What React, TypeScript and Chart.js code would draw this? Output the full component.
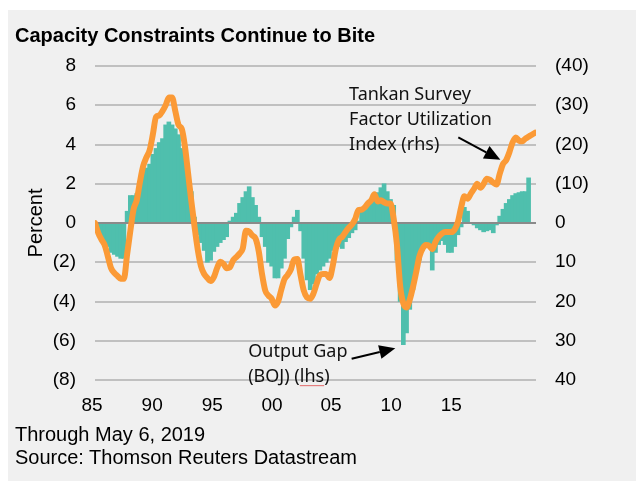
import React, { useEffect, useRef } from 'react';
import { Chart, registerables } from 'chart.js';

Chart.register(...registerables);

// Output gap (BOJ), percent, quarterly from 1985Q1 (lhs)
const outputGap = [
  -0.1, -0.5, -0.8, -1.0, -1.2, -1.5, -1.6, -1.7, -1.8, -1.8,
  0.6, 1.4, 1.4, 1.5, 2.1, 2.6, 2.8, 3.0, 3.5, 3.8,
  4.1, 4.3, 5.0, 5.15, 5.0, 4.8, 4.5, 3.8, 3.0, 2.4,
  1.6, 0.3, -0.6, -1.0, -1.4, -2.0, -1.9, -1.45, -1.2, -1.0,
  -0.85, -0.7, 0.1, 0.3, 0.5, 1.0, 1.3, 1.6, 1.85, 1.3,
  0.9, 0.3, -0.7, -1.2, -2.0, -2.2, -2.8, -2.8, -2.3, -1.8,
  -0.8, -0.2, 0.3, 0.65, -0.4, -1.8, -2.9, -3.4, -3.1, -2.6,
  -2.4, -2.2, -2.0, -1.8, -1.4, -1.3, -1.2, -1.3, -0.95, -0.75,
  -0.5, -0.35, 0.1, 0.6, 0.8, 1.0, 1.2, 1.4, 1.55, 1.8,
  2.0, 1.6, 1.2, 0.9, -1.9, -4.0, -6.2, -5.6, -4.4, -3.4,
  -2.5, -1.9, -1.4, -1.2, -1.0, -2.4, -1.5, -1.1, -0.9, -1.1,
  -1.5, -1.5, -1.2, -0.6, -0.2, 0.8, 0.6, 0.0, -0.1, -0.25,
  -0.35, -0.45, -0.4, -0.35, -0.5, -0.1, 0.35, 0.7, 1.0, 1.2,
  1.4, 1.5, 1.55, 1.6, 1.6, 2.3,
];

// Tankan survey factor utilization index, quarterly from 1985Q1 (rhs, inverted)
const tankan = [
  0, 2.5, 4.2, 5.6, 8.5, 11.5, 12.7, 13.5, 14.2, 14.2,
  8, 2, -3.5, -5.8, -10.5, -14.5, -16.7, -18.5, -22.5, -27,
  -27.4, -28.5, -30, -32, -32, -28.5, -25, -24, -19.5, -12.5,
  -5.5, 1, 6.8, 11, 13, 14, 14.8, 13.8, 11.5, 9.9,
  10.4, 11.5, 11.3, 9.5, 8.7, 7.8, 6.5, 2, 2.2, 3.2,
  4, 7.3, 13, 17.2, 18.5, 19.3, 21, 20, 17, 14.3,
  13.2, 11.8, 9.3, 9.2, 13.3, 17.2, 19, 19.3, 18, 15.5,
  13.3, 13, 13, 14, 11, 6.5, 4.2, 3.5, 2.3, 1.2,
  0.4, -1, -3.3, -3.4, -4, -5, -5.8, -7.3, -5.5, -5.8,
  -5.3, -5, -5, -1, 5.5, 16, 20.5, 21.5, 19.5, 16.3,
  12.5, 8.5, 6.5, 5.6, 5.8, 6.7, 4.8, 3.5, 2.7, 2.3,
  2.3, 2.3, 1.6, -0.3, -4, -6.8, -6.2, -7.5, -8.7, -10,
  -9, -10, -11.3, -11, -10.3, -9.8, -12.5, -15, -16, -18,
  -20.5, -21.8, -21, -20.8, -21.5, -22, -22.5, -23,
];

const xTickLabels = ['85', '90', '95', '00', '05', '10', '15'];
const xTickPositions = [-0.9, 17.8, 36.5, 55.1, 73.5, 92.2, 110.9];

const tankanNote = ['Tankan Survey', 'Factor Utilization', 'Index (rhs)'];
const gapNote = ['Output Gap', '(BOJ) (lhs)'];

const TEAL = '#4fbfad';
const ORANGE = '#fb9a36';
const FONT = '"Liberation Sans", Arial, sans-serif';

const paren = (v: number) => (v < 0 ? `(${-v})` : `${v}`);

export default function App() {
  const ref = useRef<HTMLCanvasElement>(null);

  useEffect(() => {
    const canvas = ref.current!;

    const zeroLine = {
      id: 'zeroLine',
      afterDatasetDraw(chart: any, args: any) {
        if (args.meta.type !== 'bar') return;
        const { ctx, chartArea, scales } = chart;
        const y = scales.y.getPixelForValue(0);
        ctx.save();
        ctx.strokeStyle = '#8a8a8a';
        ctx.lineWidth = 2;
        ctx.beginPath();
        ctx.moveTo(chartArea.left, y);
        ctx.lineTo(chartArea.right, y);
        ctx.stroke();
        ctx.restore();
      },
    };

    const arrow = (ctx: CanvasRenderingContext2D, x0: number, y0: number, x1: number, y1: number) => {
      const ang = Math.atan2(y1 - y0, x1 - x0);
      const len = 16;
      const hw = 7;
      const bx = x1 - len * Math.cos(ang);
      const by = y1 - len * Math.sin(ang);
      ctx.strokeStyle = '#000';
      ctx.lineWidth = 2;
      ctx.beginPath();
      ctx.moveTo(x0, y0);
      ctx.lineTo(bx, by);
      ctx.stroke();
      ctx.fillStyle = '#000';
      ctx.beginPath();
      ctx.moveTo(x1, y1);
      ctx.lineTo(bx + hw * Math.sin(ang), by - hw * Math.cos(ang));
      ctx.lineTo(bx - hw * Math.sin(ang), by + hw * Math.cos(ang));
      ctx.closePath();
      ctx.fill();
    };

    const notes = {
      id: 'notes',
      afterDraw(chart: any) {
        const { ctx, scales } = chart;
        const px = (i: number) => scales.x.getPixelForValue(i);
        const py = (v: number) => scales.y.getPixelForValue(v);
        ctx.save();
        ctx.font = '18px "Noto Sans", sans-serif';
        ctx.fillStyle = '#111';
        ctx.textAlign = 'left';
        ctx.textBaseline = 'alphabetic';
        const tY = [6.26, 5.0, 3.71];
        tankanNote.forEach((t, k) => ctx.fillText(t, px(79.1), py(tY[k])));
        const gY = [-6.84, -8.11];
        gapNote.forEach((t, k) => ctx.fillText(t, px(47.7), py(gY[k])));
        // spell-check underline under "lhs"
        const pre = ctx.measureText('(BOJ) (').width;
        const w = ctx.measureText('lhs').width;
        ctx.strokeStyle = '#e36a6a';
        ctx.lineWidth = 1;
        ctx.beginPath();
        ctx.moveTo(px(47.7) + pre, py(-8.11) + 3.5);
        ctx.lineTo(px(47.7) + pre + w, py(-8.11) + 3.5);
        ctx.stroke();
        arrow(ctx, px(113.1), py(4.36), px(126.2), py(3.22));
        arrow(ctx, px(79.9), py(-6.92), px(93.5), py(-6.38));
        ctx.restore();
      },
    };

    const chart = new Chart(canvas, {
      type: 'bar',
      data: {
        datasets: [
          {
            type: 'line',
            label: 'Tankan',
            data: tankan.map((v, i) => ({ x: i, y: v })),
            yAxisID: 'y2',
            xAxisID: 'x',
            borderColor: ORANGE,
            borderWidth: 6,
            pointRadius: 0,
            borderJoinStyle: 'round',
            borderCapStyle: 'round',
            cubicInterpolationMode: 'monotone',
            order: 1,
          } as any,
          {
            type: 'bar',
            label: 'Output Gap',
            data: outputGap.map((v, i) => ({ x: i, y: v })),
            yAxisID: 'y',
            xAxisID: 'x',
            backgroundColor: TEAL,
            borderWidth: 0,
            barThickness: 4,
            order: 2,
          } as any,
        ],
      },
      options: {
        responsive: false,
        animation: false,
        layout: { padding: { top: 56, left: 0, right: 0, bottom: 0 } },
        plugins: { legend: { display: false }, tooltip: { enabled: false }, title: { display: false } },
        scales: {
          x: {
            type: 'linear',
            min: 0,
            max: 137.3,
            offset: false,
            grid: { display: false, drawTicks: false, offset: false },
            border: { display: false },
            afterBuildTicks: (scale: any) => {
              scale.ticks = xTickPositions.map((v) => ({ value: v }));
            },
            afterFit: (scale: any) => {
              scale.height = 101;
            },
            ticks: {
              autoSkip: false,
              maxRotation: 0,
              padding: 14,
              color: '#000',
              font: { family: FONT, size: 19 },
              callback: (_v: any, idx: number) => xTickLabels[idx],
            },
          },
          y: {
            position: 'left',
            min: -8,
            max: 8,
            afterFit: (scale: any) => {
              scale.width = 87;
            },
            grid: {
              drawTicks: false,
              lineWidth: 2,
              color: (c: any) => (c.tick && c.tick.value === 0 ? '#8a8a8a' : '#c0c0c0'),
            },
            border: { display: false },
            title: {
              display: true,
              text: 'Percent',
              color: '#000',
              font: { family: FONT, size: 20 },
              padding: { top: 16, bottom: 0 },
            },
            ticks: {
              stepSize: 2,
              padding: 19,
              color: '#000',
              font: { family: FONT, size: 19 },
              callback: (v: any) => paren(Number(v)),
            },
          },
          y2: {
            position: 'right',
            min: -40,
            max: 40,
            reverse: true,
            afterFit: (scale: any) => {
              scale.width = 100;
            },
            grid: { display: false, drawTicks: false },
            border: { display: false },
            ticks: {
              stepSize: 10,
              padding: 19,
              color: '#000',
              font: { family: FONT, size: 19 },
              callback: (v: any) => paren(Number(v)),
            },
          },
        },
      } as any,
      plugins: [zeroLine, notes],
    });

    return () => chart.destroy();
  }, []);

  return (
    <div
      style={{
        position: 'fixed',
        left: 8,
        top: 10,
        width: 628,
        height: 471,
        background: '#f0f0f0',
        fontFamily: FONT,
        color: '#000',
      }}
    >
      <canvas ref={ref} width={628} height={471} style={{ position: 'absolute', left: 0, top: 0 }} />
      <div
        style={{
          position: 'absolute',
          left: 7,
          top: 12.8,
          fontSize: 20,
          lineHeight: '24px',
          fontWeight: 'bold',
          whiteSpace: 'nowrap',
        }}
      >
        Capacity Constraints Continue to Bite
      </div>
      <div
        style={{
          position: 'absolute',
          left: 7,
          top: 413,
          fontSize: 20,
          lineHeight: '23px',
          whiteSpace: 'nowrap',
        }}
      >
        Through May 6, 2019
        <br />
        Source: Thomson Reuters Datastream
      </div>
    </div>
  );
}
